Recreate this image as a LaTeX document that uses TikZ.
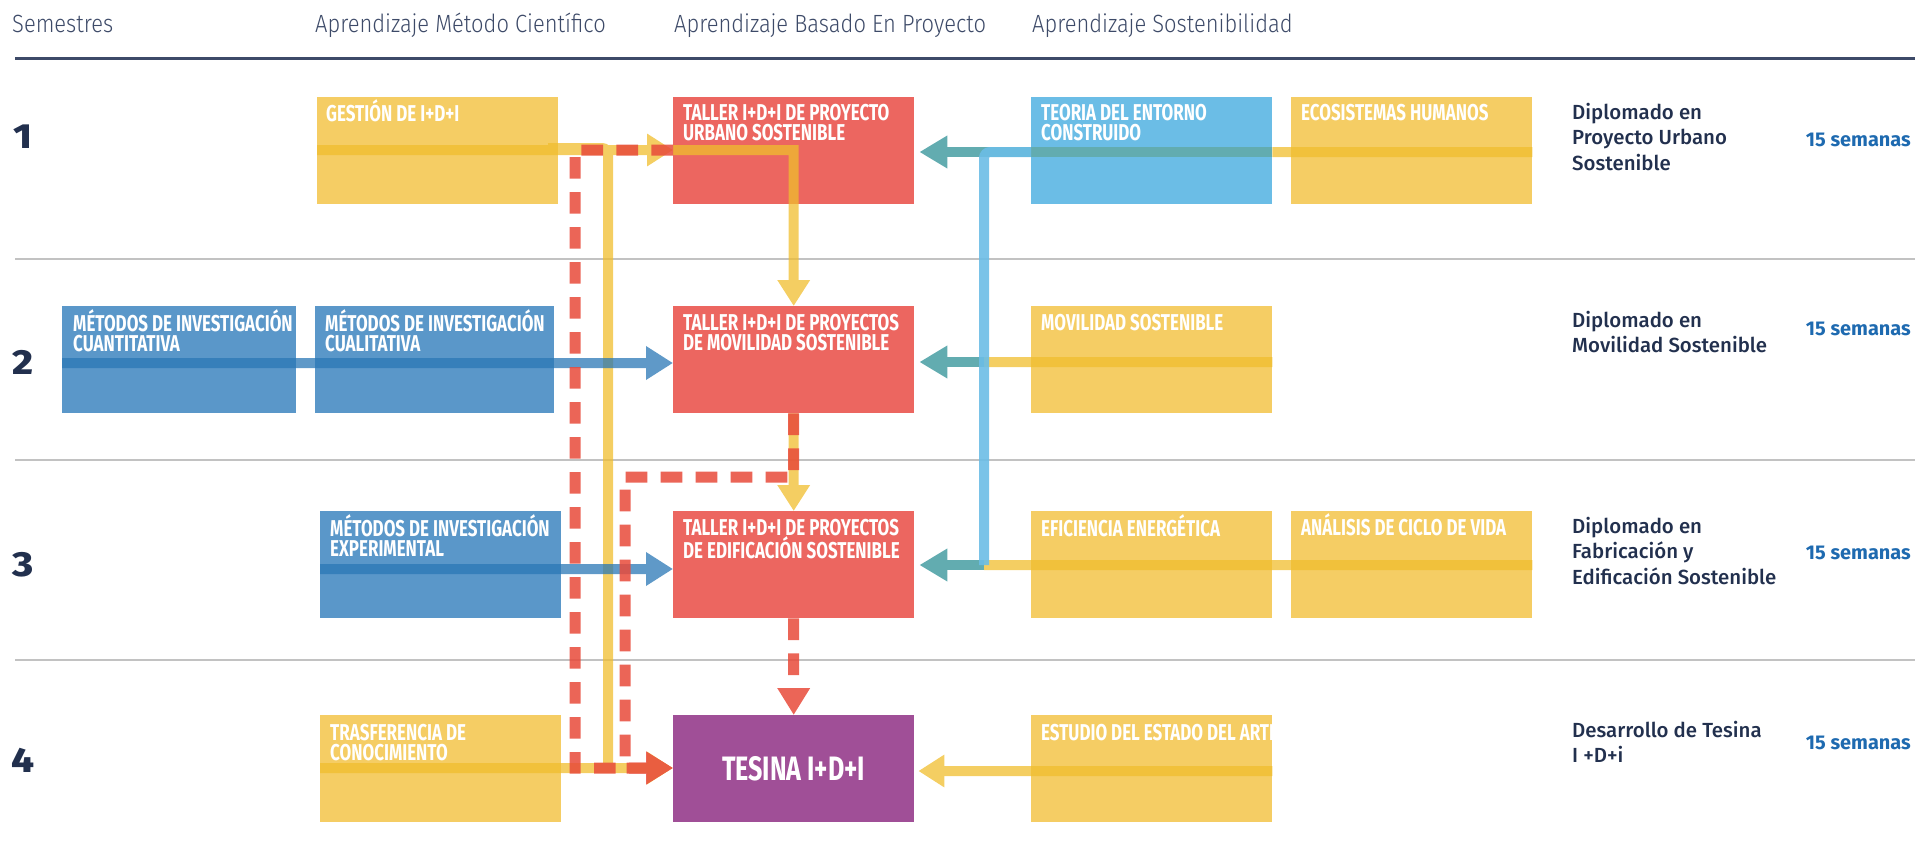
\documentclass[tikz,border=0pt]{standalone}
\usepackage{fontspec}
\setmainfont{Fira Sans}
\newfontfamily\boxfont[FakeStretch=0.74]{Fira Sans}
\newfontfamily\hdrfont[FakeStretch=0.88]{Fira Sans Light}
\newfontfamily\rfont{Fira Sans Medium}
\newfontfamily\numfont[FakeStretch=1.15]{Fira Sans ExtraBold}
\usetikzlibrary{arrows.meta,calc}
\definecolor{cyel}{HTML}{F5CD64}
\definecolor{cyline}{HTML}{F0BD2E}
\definecolor{cred}{HTML}{EC6660}
\definecolor{cdash}{HTML}{E84A3A}
\definecolor{clblue}{HTML}{6BBDE6}
\definecolor{cdblue}{HTML}{5A97C9}
\definecolor{cbline}{HTML}{2A77B5}
\definecolor{cpurple}{HTML}{A04F97}
\definecolor{cteal}{HTML}{62ACB0}
\definecolor{cnavy}{HTML}{22304E}
\definecolor{csem}{HTML}{1E6AB0}
\definecolor{cgray}{HTML}{C2C2C2}
\definecolor{crule}{HTML}{3D4A68}
\tikzset{
  boxnode/.style={minimum width=241bp, minimum height=107bp, inner sep=0pt, anchor=north west, draw=none},
  lbl/.style={anchor=base west, inner sep=0pt, text=white, font=\boxfont\bfseries\fontsize{23}{21}\selectfont},
  hdr/.style={anchor=base west, inner sep=0pt, text=crule, font=\hdrfont\fontsize{25}{28}\selectfont},
  rtxt/.style={anchor=base west, inner sep=0pt, text=cnavy, font=\rfont\fontsize{20.5}{26}\selectfont},
  semtxt/.style={anchor=base east, inner sep=0pt, text=csem, font=\bfseries\fontsize{20}{22}\selectfont},
  numtxt/.style={anchor=base, inner sep=0pt, text=cnavy, font=\numfont\fontsize{35}{35}\selectfont},
  yl/.style={line width=10bp, draw=cyline},
  yarr/.style={yl, -{Triangle[width=31bp,length=26bp]}},
  rdarr/.style={line width=11bp, draw=cdash, dash pattern=on 21.7bp off 13.3bp, -{Triangle[width=31bp,length=27bp]}},
  barr/.style={line width=10bp, draw=cbline, -{Triangle[width=32bp,length=27bp]}},
  tarr/.style={line width=10bp, draw=cteal, -{Triangle[width=31bp,length=28bp]}},
  lbline/.style={line width=10bp, draw=clblue, opacity=0.9, rounded corners=6bp},
  seprule/.style={line width=2bp, draw=cgray},
}
\begin{document}
\begin{tikzpicture}[x=1bp,y=-1bp]
\useasboundingbox (0,0) rectangle (1915,851);
% header
\node[hdr] (hsem) at (12,32) {Semestres};
\node[hdr] (hmet) at (315,32) {Aprendizaje Método Científico};
\node[hdr] (hpro) at (674,32) {Aprendizaje Basado En Proyecto};
\node[hdr] (hsos) at (1032,32) {Aprendizaje Sostenibilidad};
\draw[line width=3bp, crule] (15,58) -- (1915,58);
\draw[seprule] (15,259) -- (1915,259);
\draw[seprule] (15,460) -- (1915,460);
\draw[seprule] (15,660) -- (1915,660);
% numbers
\node[numtxt] (n1) at (23,148) {1};
\node[numtxt] (n2) at (23,374) {2};
\node[numtxt] (n3) at (23,576) {3};
\node[numtxt] (n4) at (23,772) {4};
% boxes row 1
\node[boxnode, fill=cyel] (gest) at (317,97) {};
\node[boxnode, fill=cred] (taller1) at (673,97) {};
\node[boxnode, fill=clblue] (teoria) at (1031,97) {};
\node[boxnode, fill=cyel] (ecosist) at (1291,97) {};
% row 2
\node[boxnode, fill=cdblue, minimum width=234bp] (cuanti) at (62,306) {};
\node[boxnode, fill=cdblue, minimum width=239bp] (cuali) at (315,306) {};
\node[boxnode, fill=cred] (taller2) at (673,306) {};
\node[boxnode, fill=cyel] (movil) at (1031,306) {};
% row 3
\node[boxnode, fill=cdblue] (exper) at (320,511) {};
\node[boxnode, fill=cred] (taller3) at (673,511) {};
\node[boxnode, fill=cyel] (efic) at (1031,511) {};
\node[boxnode, fill=cyel] (analisis) at (1291,511) {};
% row 4
\node[boxnode, fill=cyel] (trasf) at (320,715) {};
\node[boxnode, fill=cpurple] (tesina) at (673,715) {};
\node[boxnode, fill=cyel] (estudio) at (1031,715) {};
% labels
\node[lbl] (gestL) at ($(gest.north west)+(9,24)$) {\parbox[t]{235bp}{GESTIÓN DE I+D+I}};
\node[lbl] (taller1L) at ($(taller1.north west)+(10,23)$) {\parbox[t]{235bp}{TALLER I+D+I DE PROYECTO\\URBANO SOSTENIBLE}};
\node[lbl] (teoriaL) at ($(teoria.north west)+(10,23)$) {\parbox[t]{235bp}{TEORIA DEL ENTORNO\\CONSTRUIDO}};
\node[lbl] (ecosistL) at ($(ecosist.north west)+(10,23)$) {\parbox[t]{235bp}{ECOSISTEMAS HUMANOS}};
\node[lbl] (cuantiL) at ($(cuanti.north west)+(11,25)$) {\parbox[t]{235bp}{MÉTODOS DE INVESTIGACIÓN\\CUANTITATIVA}};
\node[lbl] (cualiL) at ($(cuali.north west)+(10,25)$) {\parbox[t]{235bp}{MÉTODOS DE INVESTIGACIÓN\\CUALITATIVA}};
\node[lbl] (taller2L) at ($(taller2.north west)+(10,24)$) {\parbox[t]{235bp}{TALLER I+D+I DE PROYECTOS\\DE MOVILIDAD SOSTENIBLE}};
\node[lbl] (movilL) at ($(movil.north west)+(10,24)$) {\parbox[t]{235bp}{MOVILIDAD SOSTENIBLE}};
\node[lbl] (experL) at ($(exper.north west)+(10,25)$) {\parbox[t]{235bp}{MÉTODOS DE INVESTIGACIÓN\\EXPERIMENTAL}};
\node[lbl] (taller3L) at ($(taller3.north west)+(10,24)$) {\parbox[t]{235bp}{TALLER I+D+I DE PROYECTOS\\DE EDIFICACIÓN SOSTENIBLE}};
\node[lbl] (eficL) at ($(efic.north west)+(10,25)$) {\parbox[t]{235bp}{EFICIENCIA ENERGÉTICA}};
\node[lbl] (analisisL) at ($(analisis.north west)+(10,24)$) {\parbox[t]{235bp}{ANÁLISIS DE CICLO DE VIDA}};
\node[lbl] (trasfL) at ($(trasf.north west)+(10,25)$) {\parbox[t]{235bp}{TRASFERENCIA DE\\CONOCIMIENTO}};
\node[anchor=center, inner sep=0pt, text=white, font=\boxfont\bfseries\fontsize{34}{34}\selectfont] (tesinaL) at (tesina.center) {TESINA I+D+I};
\begin{scope}
\clip (estudio.north west) rectangle (estudio.south east);
\node[lbl] (estudioL) at ($(estudio.north west)+(10,25)$) {ESTUDIO DEL ESTADO DEL ARTE};
\end{scope}
% right texts
\node[rtxt] (d1) at (1572,119) {\parbox[t]{300bp}{Diplomado en\\Proyecto Urbano\\Sostenible}};
\node[rtxt] (d2) at (1572,327) {\parbox[t]{300bp}{Diplomado en\\Movilidad Sostenible}};
\node[rtxt] (d3) at (1572,533) {\parbox[t]{300bp}{Diplomado en\\Fabricación y\\Edificación Sostenible}};
\node[rtxt] (d4) at (1572,737) {\parbox[t]{300bp}{Desarrollo de Tesina\\I +D+i}};
\node[semtxt] (s1) at (1911,146) {15 semanas};
\node[semtxt] (s2) at (1911,335) {15 semanas};
\node[semtxt] (s3) at (1911,559) {15 semanas};
\node[semtxt] (s4) at (1911,749) {15 semanas};
% reference coordinates for connectors
\coordinate (yA) at (0,150);
\coordinate (yAt) at (0,148);
\coordinate (yAr) at (0,152);
\coordinate (yB) at (0,363);
\coordinate (yBr) at (0,362);
\coordinate (yC) at (0,569);
\coordinate (yCr) at (0,565);
\coordinate (yD) at (0,768);
\coordinate (yDr) at (0,771);
\coordinate (yRd) at (0,477);
\coordinate (xR1) at (575,0);
\coordinate (xY) at (608,0);
\coordinate (xR2) at (625,0);
\coordinate (xS) at (548,0);
\coordinate (xB) at (984,0);
% yellow connectors
\begin{scope}[transparency group, opacity=0.75]
\draw[yarr] (gest.west |- yA) -- (taller1.west |- yA);
\draw[yarr] (taller1.west |- yA) -- (taller1.center |- yA) -- (taller2.north);
\draw[yl, rounded corners=6bp] (xS |- yAt) -- (xY |- yAt) -- (xY |- yD);
\draw[yarr] (trasf.west |- yD) -- (tesina.west |- yD);
\draw[yarr] (taller2.south) -- (taller3.north);
\draw[yl] (ecosist.east |- yAr) -- (teoria.east |- yAr);
\draw[yl] (movil.east |- yBr) -- (xB |- yBr);
\draw[yl] (analisis.east |- yCr) -- (xB |- yCr);
\draw[yarr] (estudio.east |- yDr) -- ($(tesina.east |- yDr)+(4,0)$);
\end{scope}
% blue connectors
\begin{scope}[transparency group, opacity=0.75]
\draw[barr] (cuanti.west |- yB) -- (taller2.west |- yB);
\draw[barr] (exper.west |- yC) -- (taller3.west |- yC);
\end{scope}
% red dashed connectors
\begin{scope}[transparency group, opacity=0.85]
\draw[rdarr] (taller1.west |- yA) -- (xR1 |- yA) -- (xR1 |- yD) -- (tesina.west |- yD);
\draw[rdarr] (taller2.south) -- (taller2.south |- yRd) -- (xR2 |- yRd) -- (xR2 |- yD) -- (tesina.west |- yD);
\draw[rdarr] (taller3.south) -- (tesina.north);
\end{scope}
% teal arrows and light blue link
\draw[tarr] (teoria.east |- yAr) -- ($(taller1.east |- yAr)+(5,0)$);
\draw[tarr] (xB |- yBr) -- ($(taller2.east |- yBr)+(5,0)$);
\draw[tarr] (xB |- yCr) -- ($(taller3.east |- yCr)+(5,0)$);
\draw[lbline] (teoria.west |- yAr) -- (xB |- yAr) -- (xB |- yCr);
\end{tikzpicture}
\end{document}
